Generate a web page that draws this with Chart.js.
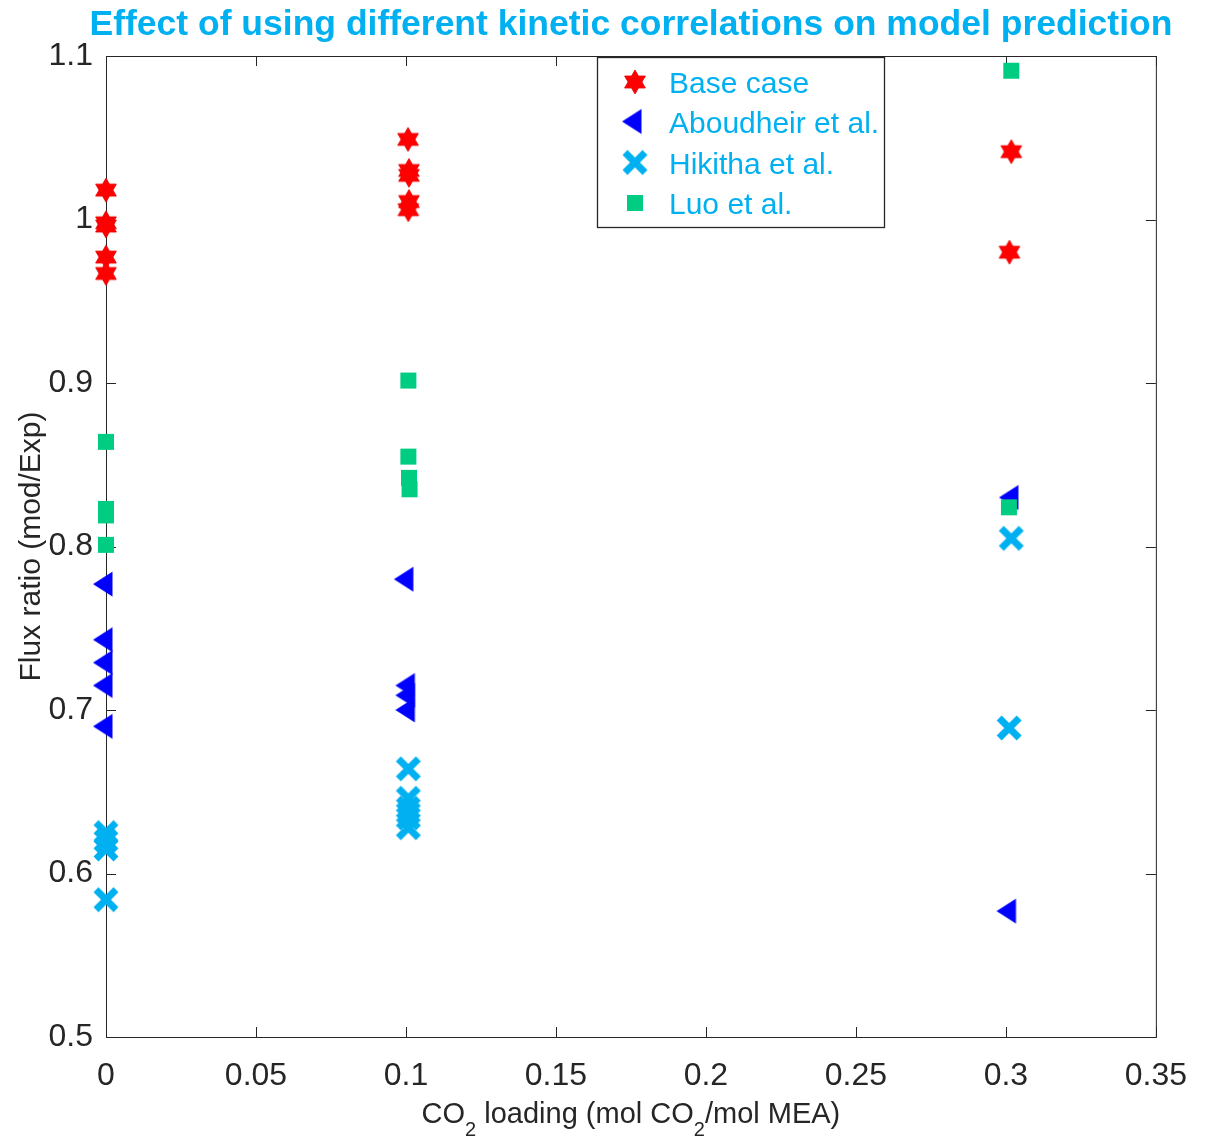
<!DOCTYPE html>
<html>
<head>
<meta charset="utf-8">
<script src="https://cdn.jsdelivr.net/npm/chart.js@4/dist/chart.umd.min.js"></script>
<style>
  html, body { margin: 0; padding: 0; background: #ffffff; }
  #wrap { width: 1207px; height: 1142px; }
</style>
</head>
<body>
<div id="wrap"><canvas id="chart" width="1207" height="1142"></canvas></div>
<script>
// ---- data ----
const seriesNames = ['Base case', 'Aboudheir et al.', 'Hikitha et al.', 'Luo et al.'];

const baseX = [0, 0, 0, 0, 0, 0.1007, 0.1010, 0.1010, 0.1010, 0.1008, 0.3018, 0.3012];
const baseY = [1.018, 0.998, 0.996, 0.977, 0.967, 1.049, 1.030, 1.027, 1.011, 1.006, 1.0415, 0.980];

const aboudheirX = [0, 0, 0, 0, 0, 0.1003, 0.1008, 0.1008, 0.1008, 0.3020, 0.3012];
const aboudheirY = [0.777, 0.743, 0.729, 0.715, 0.690, 0.780, 0.715, 0.709, 0.700, 0.830, 0.577];

const hikithaX = [0, 0, 0, 0, 0.1008, 0.1008, 0.1008, 0.1008, 0.1008, 0.3018, 0.3011];
const hikithaY = [0.625, 0.620, 0.615, 0.584, 0.664, 0.646, 0.640, 0.634, 0.628, 0.805, 0.689];

const luoX = [0, 0, 0, 0, 0.1008, 0.1008, 0.1010, 0.1012, 0.3018, 0.3010];
const luoY = [0.864, 0.823, 0.819, 0.801, 0.9015, 0.855, 0.842, 0.835, 1.091, 0.824];

const xTicks = [0, 0.05, 0.1, 0.15, 0.2, 0.25, 0.3, 0.35];
const xTickLabels = ['0', '0.05', '0.1', '0.15', '0.2', '0.25', '0.3', '0.35'];
const yTicks = [0.5, 0.6, 0.7, 0.8, 0.9, 1.0, 1.1];
const yTickLabels = ['0.5', '0.6', '0.7', '0.8', '0.9', '1', '1.1'];

const titleText = 'Effect of using different kinetic correlations on model prediction';

// ---- colours / fonts ----
const RED = '#ff0000';
const BLUE = '#0000ff';
const CYAN = '#00b0f0';
const GREEN = 'rgb(0,204,130)';
const AXIS = '#262626';
const FONT = '"Liberation Sans", Arial, Helvetica, sans-serif';

// ---- marker images ----
function markerCanvas(size, paint) {
  const c = document.createElement('canvas');
  c.width = size; c.height = size;
  const g = c.getContext('2d');
  g.translate(size / 2, size / 2);
  paint(g);
  return c;
}

const hexagram = markerCanvas(32, g => {
  const R = 12, r = R / Math.sqrt(3);
  g.beginPath();
  for (let i = 0; i < 12; i++) {
    const a = -Math.PI / 2 + i * Math.PI / 6;
    const rad = i % 2 === 0 ? R : r;
    const px = rad * Math.cos(a), py = rad * Math.sin(a);
    if (i === 0) g.moveTo(px, py); else g.lineTo(px, py);
  }
  g.closePath();
  g.fillStyle = RED;
  g.fill();
  g.strokeStyle = '#e80000';
  g.lineWidth = 0.8;
  g.stroke();
});

// left-pointing triangle, centred on its centroid
const leftTriangle = markerCanvas(40, g => {
  g.beginPath();
  g.moveTo(-13, 0);
  g.lineTo(6.5, -12.5);
  g.lineTo(6.5, 12.5);
  g.closePath();
  g.fillStyle = BLUE;
  g.fill();
});

const thickCross = markerCanvas(34, g => {
  const a = 10;
  g.strokeStyle = CYAN;
  g.lineWidth = 7;
  g.lineCap = 'butt';
  g.beginPath();
  g.moveTo(-a, -a); g.lineTo(a, a);
  g.moveTo(-a, a); g.lineTo(a, -a);
  g.stroke();
});

const squareMark = markerCanvas(24, g => {
  g.fillStyle = GREEN;
  g.fillRect(-8, -8, 16, 16);
});

const markers = [hexagram, leftTriangle, thickCross, squareMark];

function pts(xs, ys) { return xs.map((x, i) => ({ x: x, y: ys[i] })); }

// ---- plot frame geometry ----
const PAD_TOP = 56, PAD_RIGHT = 49;
const Y_AXIS_W = 106, X_AXIS_H = 105;
const TICK_LEN = 10;

const framePlugin = {
  id: 'frame',
  beforeDatasetsDraw(chart) {
    const { ctx, chartArea: a, scales } = chart;
    ctx.save();
    ctx.strokeStyle = AXIS;
    ctx.lineWidth = 1;
    ctx.strokeRect(a.left + 0.5, a.top + 0.5, a.right - a.left, a.bottom - a.top);
    ctx.beginPath();
    xTicks.forEach(v => {
      const px = Math.round(scales.x.getPixelForValue(v)) + 0.5;
      ctx.moveTo(px, a.bottom); ctx.lineTo(px, a.bottom - TICK_LEN);
      ctx.moveTo(px, a.top); ctx.lineTo(px, a.top + TICK_LEN);
    });
    yTicks.forEach(v => {
      const py = Math.round(scales.y.getPixelForValue(v)) + 0.5;
      ctx.moveTo(a.left, py); ctx.lineTo(a.left + TICK_LEN, py);
      ctx.moveTo(a.right, py); ctx.lineTo(a.right - TICK_LEN, py);
    });
    ctx.stroke();
    ctx.restore();
  },
  afterDraw(chart) {
    const { ctx, chartArea: a } = chart;
    const cx = (a.left + a.right) / 2;
    ctx.save();

    // title
    ctx.fillStyle = CYAN;
    ctx.font = 'bold 35.5px ' + FONT;
    ctx.textAlign = 'center';
    ctx.textBaseline = 'alphabetic';
    ctx.fillText(titleText, cx, 35);

    // x axis title with subscripts
    const mainFont = '29px ' + FONT, subFont = '20px ' + FONT;
    const parts = [
      ['CO', false], ['2', true], [' loading (mol CO', false], ['2', true], ['/mol MEA)', false]
    ];
    let total = 0;
    parts.forEach(p => { ctx.font = p[1] ? subFont : mainFont; total += ctx.measureText(p[0]).width; });
    let x = cx - total / 2;
    const base = 1123;
    ctx.fillStyle = AXIS;
    ctx.textAlign = 'left';
    parts.forEach(p => {
      ctx.font = p[1] ? subFont : mainFont;
      ctx.fillText(p[0], x, p[1] ? base + 13 : base);
      x += ctx.measureText(p[0]).width;
    });

    // y axis title
    ctx.save();
    ctx.translate(40, (a.top + a.bottom) / 2);
    ctx.rotate(-Math.PI / 2);
    ctx.font = '30px ' + FONT;
    ctx.textAlign = 'center';
    ctx.fillText('Flux ratio (mod/Exp)', 0, 0);
    ctx.restore();

    // legend
    const lx = 597, ly = 57, lw = 287, lh = 170;
    ctx.fillStyle = '#ffffff';
    ctx.fillRect(lx, ly, lw, lh);
    ctx.strokeStyle = AXIS;
    ctx.lineWidth = 1.3;
    ctx.strokeRect(lx + 0.5, ly + 0.5, lw, lh);
    const rows = [82, 121.5, 162.5, 203];
    ctx.font = '30px ' + FONT;
    ctx.textAlign = 'left';
    rows.forEach((ry, i) => {
      const m = markers[i];
      ctx.drawImage(m, 635 - m.width / 2, ry - m.height / 2);
      ctx.fillStyle = CYAN;
      ctx.fillText(seriesNames[i], 669, ry + 11);
    });
    ctx.restore();
  }
};

const tickFont = { family: FONT, size: 32 };

new Chart(document.getElementById('chart'), {
  type: 'scatter',
  data: {
    datasets: [
      { label: seriesNames[0], data: pts(baseX, baseY), pointStyle: hexagram, order: 4, clip: false },
      { label: seriesNames[1], data: pts(aboudheirX, aboudheirY), pointStyle: leftTriangle, order: 3, clip: false },
      { label: seriesNames[2], data: pts(hikithaX, hikithaY), pointStyle: thickCross, order: 2, clip: false },
      { label: seriesNames[3], data: pts(luoX, luoY), pointStyle: squareMark, order: 1, clip: false }
    ]
  },
  options: {
    responsive: false,
    animation: false,
    devicePixelRatio: 1,
    layout: { padding: { top: PAD_TOP, right: PAD_RIGHT, left: 0, bottom: 0 } },
    plugins: { legend: { display: false }, title: { display: false }, tooltip: { enabled: false } },
    elements: { point: { radius: 10, hoverRadius: 10 } },
    scales: {
      x: {
        type: 'linear', position: 'bottom', min: 0, max: 0.35,
        grid: { display: false, drawTicks: false },
        border: { display: false },
        afterBuildTicks: s => { s.ticks = xTicks.map(v => ({ value: v })); },
        afterFit: s => { s.height = X_AXIS_H; },
        ticks: {
          font: tickFont, color: AXIS, padding: 20, maxRotation: 0, autoSkip: false,
          callback: (v) => xTickLabels[xTicks.findIndex(t => Math.abs(t - v) < 1e-9)]
        }
      },
      y: {
        type: 'linear', min: 0.5, max: 1.1,
        grid: { display: false, drawTicks: false },
        border: { display: false },
        afterBuildTicks: s => { s.ticks = yTicks.map(v => ({ value: v })); },
        afterFit: s => { s.width = Y_AXIS_W; },
        ticks: {
          font: tickFont, color: AXIS, padding: 13, autoSkip: false,
          callback: (v) => yTickLabels[yTicks.findIndex(t => Math.abs(t - v) < 1e-9)]
        }
      }
    }
  },
  plugins: [framePlugin]
});
</script>
</body>
</html>
